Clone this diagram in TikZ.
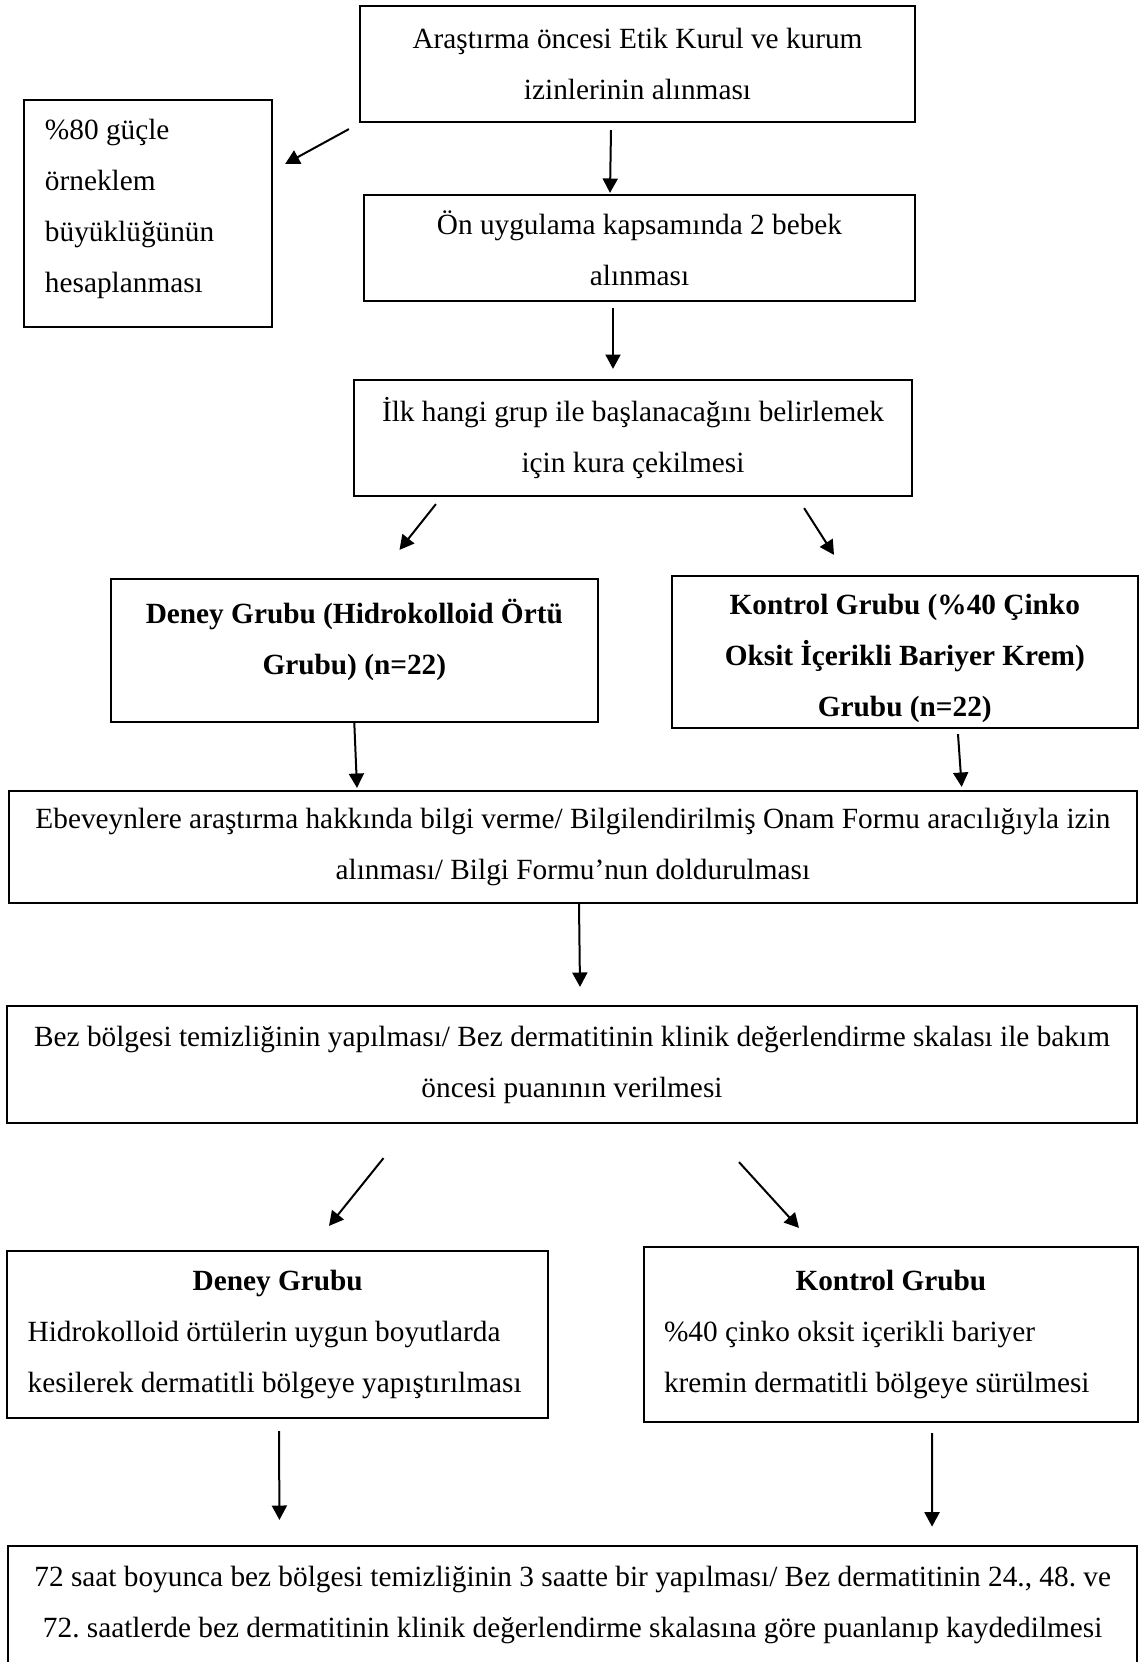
\documentclass[tikz,border=0pt]{standalone}
\usepackage{fontspec}
\setmainfont{Liberation Serif}
\frenchspacing
\usetikzlibrary{arrows.meta}
\tikzset{
  box/.style={draw=black,line width=1.1pt,inner sep=4pt,align=center,font=\fontsize{14.65pt}{25.5pt}\selectfont},
  boxl/.style={box,align=flush left},
  boxb/.style={box,font=\fontsize{14.65pt}{25.5pt}\selectfont\bfseries},
  ar/.style={-{Triangle[length=7.2pt,width=7.5pt]},draw=black,line width=1pt},
}
\begin{document}
\begin{tikzpicture}[x=0.5pt,y=-0.5pt]
  \useasboundingbox (0,0) rectangle (1141,1662);
  % steps
  \node[box,minimum width=277.5pt,minimum height=58pt] (etik) at (637.5,64)
    {Araştırma öncesi Etik Kurul ve kurum\\izinlerinin alınması};
  \node[boxl,minimum width=124pt,minimum height=113.5pt,inner xsep=10.5pt,text width=103pt] (orneklem) at (148,213.5)
    {\%80 güçle\\örneklem\\büyüklüğünün\\hesaplanması\\[-18.3pt]\mbox{}};
  \node[box,minimum width=275.5pt,minimum height=53pt] (onuyg) at (639.5,248)
    {Ön uygulama kapsamında 2 bebek\\alınması};
  \node[box,minimum width=279pt,minimum height=58pt] (kura) at (633,438)
    {İlk hangi grup ile başlanacağını belirlemek\\için kura çekilmesi};
  % groups
  \node[boxb,minimum width=243.7pt,minimum height=71.5pt] (deney) at (354.3,650.5)
    {Deney Grubu (Hidrokolloid Örtü\\Grubu) (n=22)\\[-11.5pt]\mbox{}};
  \node[boxb,minimum width=232.9pt,minimum height=76pt,inner ysep=0pt] (kontrol) at (904.8,652)
    {\rule{0pt}{16.5pt}Kontrol Grubu (\%40 Çinko\\Oksit İçerikli Bariyer Krem)\\Grubu (n=22)};
  \node[box,minimum width=564.2pt,minimum height=56pt] (onam) at (572.9,847)
    {Ebeveynlere araştırma hakkında bilgi verme/ Bilgilendirilmiş Onam Formu aracılığıyla izin\\alınması/ Bilgi Formu’nun doldurulması};
  \node[box,minimum width=565pt,minimum height=58.5pt] (temiz) at (572,1064.5)
    {Bez bölgesi temizliğinin yapılması/ Bez dermatitinin klinik değerlendirme skalası ile bakım\\öncesi puanının verilmesi};
  % care
  \node[boxl,minimum width=270.4pt,minimum height=83.5pt,inner xsep=10.2pt,text width=250pt] (ortu) at (277.7,1334.5)
    {\makebox[\linewidth]{\textbf{Deney Grubu}}\\Hidrokolloid örtülerin uygun boyutlarda\\\mbox{kesilerek dermatitli bölgeye yapıştırılması}};
  \node[boxl,minimum width=246.9pt,minimum height=87.5pt,inner xsep=10pt,text width=226.9pt] (krem) at (890.9,1334.5)
    {\makebox[\linewidth]{\textbf{Kontrol Grubu}}\\\%40 çinko oksit içerikli bariyer\\kremin dermatitli bölgeye sürülmesi};
  \node[box,minimum width=564.4pt,minimum height=77pt] (izlem) at (572.65,1623)
    {72 saat boyunca bez bölgesi temizliğinin 3 saatte bir yapılması/ Bez dermatitinin 24., 48. ve\\72. saatlerde bez dermatitinin klinik değerlendirme skalasına göre puanlanıp kaydedilmesi\\[-4pt]\mbox{}};
  % arrows
  \draw[ar] ([shift={(-10,6)}]etik.south west) -- ([shift={(12,-49.5)}]orneklem.east);
  \draw[ar] ([shift={(-26.5,7)}]etik.south) -- ([shift={(-29.5,-1)}]onuyg.north);
  \draw[ar] ([shift={(-26.5,6)}]onuyg.south) -- ([shift={(-20,-10)}]kura.north);
  \draw[ar] ([shift={(83,7)}]kura.south west) -- ([shift={(45.2,-28)}]deney.north);
  \draw[ar] ([shift={(-109,11)}]kura.south east) -- ([shift={(-70.8,-20)}]kontrol.north);
  \draw[ar] (deney.south) -- ([shift={(-215.9,-2)}]onam.north);
  \draw[ar] ([shift={(53.2,5)}]kontrol.south) -- ([shift={(-176.5,-3)}]onam.north east);
  \draw[ar] ([shift={(6.1,0)}]onam.south) -- ([shift={(8,-18)}]temiz.north);
  \draw[ar] ([shift={(-188.5,34)}]temiz.south) -- ([shift={(51.3,-24)}]ortu.north);
  \draw[ar] ([shift={(167,38)}]temiz.south) -- ([shift={(-91.9,-18)}]krem.north);
  \draw[ar] ([shift={(1.3,12)}]ortu.south) -- ([shift={(-293.2,-25)}]izlem.north);
  \draw[ar] ([shift={(41.1,10)}]krem.south) -- ([shift={(359.4,-18.3)}]izlem.north);
\end{tikzpicture}
\end{document}
